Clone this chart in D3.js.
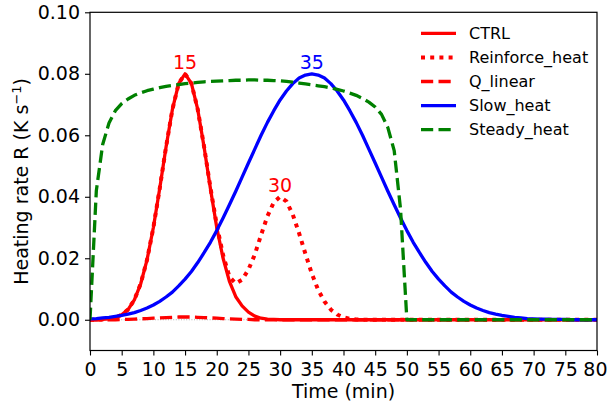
<!DOCTYPE html>
<html>
<head>
<meta charset="utf-8">
<script src="https://d3js.org/d3.v7.min.js"></script>
<style>
  body { margin: 0; background: #fff; }
  svg { font-family: "DejaVu Sans", sans-serif; }
</style>
</head>
<body>
<div id="chart"></div>
<script>
// time axis (min) and heating rates (K s^-1)
var minutes = [0,1,2,3,4,5,6,7,8,9,10,11,12,13,14,15,16,17,18,19,20,21,22,23,24,25,26,27,28,29,30,
  31,32,33,34,35,36,37,38,39,40,41,42,43,44,45,46,47,48,49,50,51,52,53,54,55,56,57,58,59,60,
  61,62,63,64,65,66,67,68,69,70,71,72,73,74,75,76,77,78,79,80];

var ctrl = [0, 0, 0.0001, 0.0003, 0.0007, 0.0016, 0.0033, 0.0065, 0.0117, 0.0195,
  0.0300, 0.0427, 0.0562, 0.0684, 0.0769, 0.0800, 0.0769, 0.0684, 0.0562, 0.0427,
  0.0300, 0.0200, 0.0125, 0.0075, 0.0045, 0.0025, 0.0012, 0.0005, 0.0002, 0.0001,
  0,0,0,0,0,0,0,0,0,0, 0,0,0,0,0,0,0,0,0,0, 0,0,0,0,0,0,0,0,0,0,
  0,0,0,0,0,0,0,0,0,0, 0,0,0,0,0,0,0,0,0,0, 0];

var reinforce = [0, 0, 0.0001, 0.0003, 0.0007, 0.0016, 0.0033, 0.0065, 0.0117, 0.0195,
  0.0300, 0.0427, 0.0562, 0.0684, 0.0769, 0.0800, 0.0769, 0.0684, 0.0563, 0.0430,
  0.0308, 0.0210, 0.0140, 0.0118, 0.0130, 0.0163, 0.0212, 0.0276, 0.0337, 0.0382,
  0.0400, 0.0385, 0.0342, 0.0281, 0.0214, 0.0150, 0.0097, 0.0059, 0.0033, 0.0017,
  0.0008, 0.0003, 0.0001, 0,0,0,0,0,0,0, 0,0,0,0,0,0,0,0,0,0,
  0,0,0,0,0,0,0,0,0,0, 0,0,0,0,0,0,0,0,0,0, 0];

var qLinear = [0, 0, 0, 0, 0, 0.0001, 0.0001, 0.0002, 0.0003, 0.0004,
  0.0005, 0.0006, 0.0007, 0.0008, 0.0009, 0.0009, 0.0009, 0.0008, 0.0007, 0.0006,
  0.0005, 0.0004, 0.0003, 0.0002, 0.0001, 0.0001, 0,0,0,0,
  0,0,0,0,0,0,0,0,0,0, 0,0,0,0,0,0,0,0,0,0, 0,0,0,0,0,0,0,0,0,0,
  0,0,0,0,0,0,0,0,0,0, 0,0,0,0,0,0,0,0,0,0, 0];

var slowHeat = [0.0003, 0.0004, 0.0006, 0.0008, 0.0011, 0.0014, 0.0018, 0.0023, 0.0030, 0.0038,
  0.0048, 0.0060, 0.0074, 0.0090, 0.0110, 0.0132, 0.0157, 0.0186, 0.0218, 0.0252,
  0.0290, 0.0331, 0.0374, 0.0418, 0.0464, 0.0510, 0.0555, 0.0600, 0.0642, 0.0680,
  0.0715, 0.0744, 0.0768, 0.0786, 0.0796, 0.0800, 0.0796, 0.0786, 0.0768, 0.0744,
  0.0715, 0.0680, 0.0642, 0.0600, 0.0555, 0.0510, 0.0464, 0.0418, 0.0374, 0.0331,
  0.0290, 0.0252, 0.0218, 0.0186, 0.0157, 0.0132, 0.0110, 0.0090, 0.0074, 0.0060,
  0.0048, 0.0038, 0.0030, 0.0023, 0.0018, 0.0014, 0.0011, 0.0008, 0.0006, 0.0004,
  0.0003, 0.0002, 0.0002, 0.0001, 0.0001, 0.0001, 0, 0, 0, 0, 0];

var steadyHeat = [0, 0.0420, 0.0570, 0.0640, 0.0680, 0.0703, 0.0718, 0.0730, 0.0738, 0.0745,
  0.0750, 0.0755, 0.0759, 0.0762, 0.0765, 0.0768, 0.0770, 0.0772, 0.0774, 0.0775,
  0.0776, 0.0777, 0.0778, 0.0779, 0.0779, 0.0780, 0.0780, 0.0779, 0.0779, 0.0778,
  0.0777, 0.0775, 0.0773, 0.0770, 0.0767, 0.0764, 0.0761, 0.0758, 0.0754, 0.0749,
  0.0744, 0.0737, 0.0730, 0.0720, 0.0708, 0.0692, 0.0668, 0.0625, 0.0550, 0.0360,
  0,0,0,0,0,0,0,0,0,0, 0,0,0,0,0,0,0,0,0,0, 0,0,0,0,0,0,0,0,0,0, 0];

var seriesNames = ["CTRL", "Reinforce_heat", "Q_linear", "Slow_heat", "Steady_heat"];
var seriesValues = [ctrl, reinforce, qLinear, slowHeat, steadyHeat];

var xTicks = [0,5,10,15,20,25,30,35,40,45,50,55,60,65,70,75,80];
var yTicks = [0, 0.02, 0.04, 0.06, 0.08, 0.10];

// peak labels
var peakTimes = [15, 30, 35];
var peakValues = [0.08, 0.04, 0.08];
var peakLabels = ["15", "30", "35"];

// styles
var colors = ["#ff0000", "#ff0000", "#ff0000", "#0000ff", "#008000"];
var widths = [3.3, 4, 3.3, 3.3, 3.3];
var dashes = [null, "4,5.2", "12.2,5.3", null, "12.2,5.3"];
var peakColors = ["#ff0000", "#ff0000", "#0000ff"];

var svgWidth = 608, svgHeight = 405;
var plot = {left: 90, right: 597, top: 12.3, bottom: 350.5};

var svg = d3.select("#chart").append("svg")
    .attr("width", svgWidth)
    .attr("height", svgHeight);

var xScale = d3.scaleLinear().domain([0, 80]).range([plot.left, plot.right]);
var yScale = d3.scaleLinear().domain([-0.01, 0.10]).range([plot.bottom, plot.top]);

// faint zero reference line
svg.append("line")
    .attr("x1", xScale(0)).attr("x2", xScale(80))
    .attr("y1", yScale(0)).attr("y2", yScale(0))
    .attr("stroke", "#b0b0b0")
    .attr("stroke-width", 1)
    .attr("stroke-dasharray", "1,1.6");

var line = d3.line()
    .x(function(d) { return xScale(d[0]); })
    .y(function(d) { return yScale(d[1]); });

svg.append("clipPath").attr("id", "clip")
  .append("rect")
    .attr("x", plot.left).attr("y", plot.top)
    .attr("width", plot.right - plot.left)
    .attr("height", plot.bottom - plot.top);

seriesValues.forEach(function(vals, i) {
  var pts = minutes.map(function(t, j) { return [t, vals[j]]; });
  svg.append("path")
      .attr("d", line(pts))
      .attr("clip-path", "url(#clip)")
      .attr("fill", "none")
      .attr("stroke", colors[i])
      .attr("stroke-width", widths[i])
      .attr("stroke-linejoin", "round")
      .attr("stroke-dasharray", dashes[i]);
});

// peak annotations
peakTimes.forEach(function(t, i) {
  svg.append("text")
      .attr("x", xScale(t))
      .attr("y", yScale(peakValues[i]) - 5)
      .attr("text-anchor", "middle")
      .attr("fill", peakColors[i])
      .attr("font-size", 19)
      .text(peakLabels[i]);
});

// frame
svg.append("rect")
    .attr("x", plot.left).attr("y", plot.top)
    .attr("width", plot.right - plot.left)
    .attr("height", plot.bottom - plot.top)
    .attr("fill", "none")
    .attr("stroke", "#000")
    .attr("stroke-width", 1.2);

// axes
var xAxis = svg.append("g")
    .attr("transform", "translate(0," + plot.bottom + ")")
    .call(d3.axisBottom(xScale).tickValues(xTicks).tickSize(5).tickSizeOuter(0).tickPadding(7));
var yAxis = svg.append("g")
    .attr("transform", "translate(" + plot.left + ",0)")
    .call(d3.axisLeft(yScale).tickValues(yTicks).tickFormat(d3.format(".2f")).tickSize(5).tickSizeOuter(0).tickPadding(5));

[xAxis, yAxis].forEach(function(g) {
  g.select(".domain").remove();
  g.selectAll("text").attr("font-size", 19).attr("font-family", "DejaVu Sans").attr("fill", "#000");
  g.selectAll("line").attr("stroke", "#000").attr("stroke-width", 1.1);
});

// last x label sits right at the page edge, keep it inside
xAxis.selectAll(".tick").filter(function(d) { return d === 80; }).select("text")
    .attr("text-anchor", "end")
    .attr("x", svgWidth - 1 - plot.right);

// axis labels
svg.append("text")
    .attr("x", (plot.left + plot.right) / 2)
    .attr("y", 398)
    .attr("text-anchor", "middle")
    .attr("font-size", 19)
    .text("Time (min)");

var yLabel = svg.append("text")
    .attr("transform", "translate(28," + ((plot.top + plot.bottom) / 2) + ") rotate(-90)")
    .attr("text-anchor", "middle")
    .attr("font-size", 19);
yLabel.append("tspan").text("Heating rate R (K s");
yLabel.append("tspan").attr("dy", -7).attr("font-size", 13).text("\u22121");
yLabel.append("tspan").attr("dy", 7).text(")");

// legend
var legend = svg.append("g").attr("transform", "translate(421,33.3)");
seriesNames.forEach(function(name, i) {
  var row = legend.append("g").attr("transform", "translate(0," + (i * 24.1) + ")");
  row.append("line")
      .attr("x1", 0).attr("x2", 35)
      .attr("y1", 0).attr("y2", 0)
      .attr("stroke", colors[i])
      .attr("stroke-width", widths[i])
      .attr("stroke-dasharray", dashes[i]);
  row.append("text")
      .attr("x", 48)
      .attr("y", 0)
      .attr("dy", "0.36em")
      .attr("font-size", 16)
      .text(name);
});
</script>
</body>
</html>
